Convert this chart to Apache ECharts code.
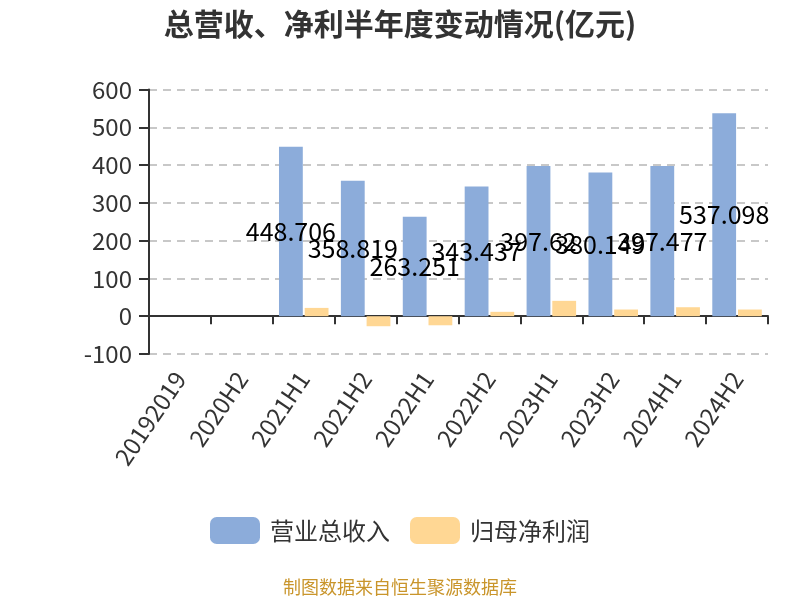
<!DOCTYPE html>
<html>
<head>
<meta charset="utf-8">
<script src="https://cdn.jsdelivr.net/npm/echarts@6/dist/echarts.min.js"></script>
<style>
	html, body { margin: 0; padding: 0; background: #fff; }
	#main { width: 800px; height: 600px; }
</style>
</head>
<body>
<div id="main"></div>
<script>
// 半年度数据（亿元）
var categories = ['20192019', '2020H2', '2021H1', '2021H2', '2022H1', '2022H2', '2023H1', '2023H2', '2024H1', '2024H2'];
var revenue = [null, null, 448.706, 358.819, 263.251, 343.437, 397.62, 380.149, 397.477, 537.098];
var netProfit = [null, null, 22, -26.5, -24, 11.6, 40.7, 17.7, 23.8, 17.7];
var seriesNames = ['营业总收入', '归母净利润'];
var yTicks = { min: -100, max: 600, interval: 100 };

var FONT = '"Noto Sans CJK SC", "Noto Sans", sans-serif';

var myChart = echarts.init(document.getElementById('main'));

var option = {
	backgroundColor : '#fff',
	textStyle : { fontFamily : FONT },
	title : {
		text : '总营收、净利半年度变动情况(亿元)',
		left : 'center',
		top : 4,
		textStyle : {
			fontFamily : FONT,
			fontSize : 30,
			fontWeight : 'bold',
			color : '#333'
		}
	},
	legend : {
		bottom : 51,
		left : 'center',
		itemWidth : 50,
		itemHeight : 27,
		itemGap : 20,
		textStyle : { fontFamily : FONT, fontSize : 24, color : '#333', padding : [0, 0, 0, 5] },
		data : seriesNames
	},
	graphic : [ {
		type : 'text',
		left : 'center',
		top : 578,
		style : {
			text : '制图数据来自恒生聚源数据库',
			fontFamily : FONT,
			fontSize : 18,
			fill : '#c9952b'
		}
	} ],
	grid : {
		left : 149,
		right : 32,
		top : 89.5,
		bottom : 246,
		containLabel : false
	},
	xAxis : {
		type : 'category',
		data : categories,
		axisLine : { onZero : true, lineStyle : { color : '#333', width : 2 } },
		axisTick : { show : true, length : 8, lineStyle : { color : '#333', width : 2 } },
		axisLabel : {
			rotate : 56,
			margin : 20,
			interval : 0,
			fontFamily : FONT,
			fontSize : 24,
			color : '#333'
		}
	},
	yAxis : {
		type : 'value',
		min : yTicks.min,
		max : yTicks.max,
		interval : yTicks.interval,
		axisLine : { show : true, lineStyle : { color : '#333', width : 2 } },
		axisTick : { show : true, length : 10, lineStyle : { color : '#333', width : 2 } },
		axisLabel : { fontFamily : FONT, fontSize : 24, color : '#333', margin : 17 },
		splitLine : { lineStyle : { type : [8, 6], color : '#c8c8c8', width : 2 } }
	},
	series : [ {
		name : seriesNames[0],
		type : 'bar',
		barGap : '8%',
		barCategoryGap : '20%',
		itemStyle : { color : '#8cacda' },
		label : {
			show : true,
			position : 'inside',
			fontFamily : FONT,
			fontSize : 25,
			color : '#000'
		},
		data : revenue
	}, {
		name : seriesNames[1],
		type : 'bar',
		itemStyle : { color : '#ffd794' },
		data : netProfit
	} ]
};

myChart.setOption(option);
</script>
</body>
</html>
